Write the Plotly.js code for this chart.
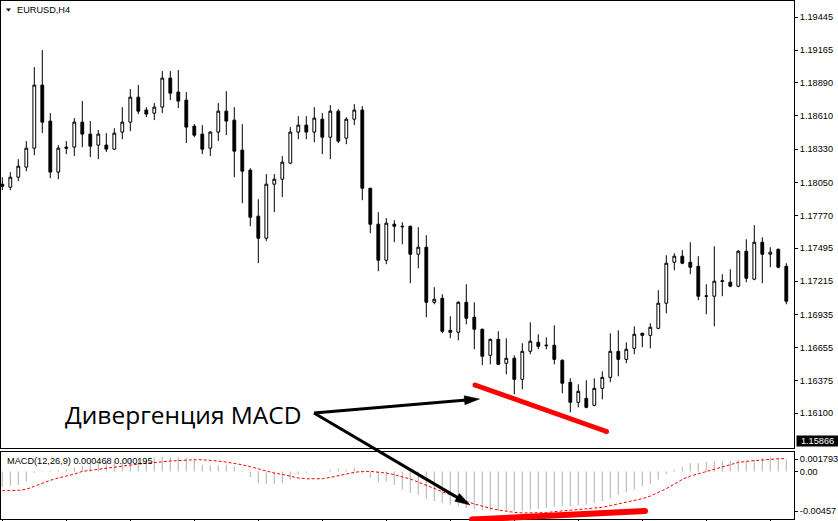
<!DOCTYPE html>
<html>
<head>
<meta charset="utf-8">
<script src="https://cdn.plot.ly/plotly-3.0.1.min.js"></script>
<style>
html,body{margin:0;padding:0;background:#fff;}
#chart{width:838px;height:521px;}
</style>
</head>
<body>
<div id="chart"></div>
<script>
// ---- data (EURUSD H4) ----
const openP = [1.18034,1.18009,1.18093,1.18178,1.18338,1.18871,1.18567,1.18136,1.18347,1.18347,
1.18558,1.18457,1.18364,1.18364,1.18330,1.18474,1.18558,1.18769,1.18660,1.18634,
1.18685,1.18930,1.18812,1.18744,1.18524,1.18457,1.18338,1.18474,1.18651,1.18575,
1.18322,1.18153,1.17764,1.17578,1.18034,1.18076,1.18212,1.18474,1.18533,1.18474,
1.18583,1.18431,1.18651,1.18423,1.18583,1.18660,1.18000,1.17696,1.17392,1.17696,
1.17679,1.17679,1.17443,1.17502,1.17037,1.17071,1.16800,1.16784,1.17037,1.16910,
1.16809,1.16589,1.16724,1.16522,1.16564,1.16386,1.16623,1.16699,1.16670,1.16674,
1.16547,1.16361,1.16192,1.16226,1.16167,1.16310,1.16403,1.16623,1.16555,1.16648,
1.16775,1.16758,1.16817,1.17029,1.17375,1.17426,1.17375,1.17341,1.17088,1.17088,
1.17212,1.17206,1.17173,1.17468,1.17232,1.17544,1.17443,1.17485,1.17341];
const highP = [1.18093,1.18136,1.18245,1.18398,1.19023,1.19167,1.18634,1.18364,1.18398,1.18592,
1.18736,1.18567,1.18491,1.18465,1.18507,1.18685,1.18837,1.18871,1.18685,1.18719,
1.18989,1.18989,1.18998,1.18812,1.18541,1.18533,1.18482,1.18719,1.18820,1.18685,
1.18541,1.18169,1.17907,1.18119,1.18119,1.18271,1.18516,1.18609,1.18609,1.18685,
1.18634,1.18702,1.18668,1.18600,1.18710,1.18693,1.18000,1.17798,1.17747,1.17730,
1.17713,1.17683,1.17671,1.17603,1.17164,1.17105,1.16919,1.17046,1.17189,1.17037,
1.16815,1.16730,1.16792,1.16733,1.16589,1.16691,1.16868,1.16767,1.16741,1.16843,
1.16555,1.16395,1.16344,1.16378,1.16395,1.16454,1.16775,1.16800,1.16699,1.16834,
1.16780,1.16860,1.17139,1.17434,1.17451,1.17477,1.17544,1.17426,1.17189,1.17510,
1.17274,1.17316,1.17477,1.17569,1.17688,1.17586,1.17502,1.17490,1.17367];
const lowP = [1.17984,1.17984,1.18060,1.18144,1.18279,1.18465,1.18085,1.18076,1.18288,1.18271,
1.18347,1.18262,1.18245,1.18305,1.18322,1.18414,1.18482,1.18626,1.18600,1.18575,
1.18634,1.18744,1.18676,1.18381,1.18431,1.18288,1.18271,1.18398,1.18448,1.18093,
1.17874,1.17679,1.17367,1.17553,1.17798,1.17924,1.18203,1.18414,1.18414,1.18389,
1.18288,1.18245,1.18381,1.18372,1.18533,1.17899,1.17620,1.17299,1.17358,1.17544,
1.17527,1.17198,1.17324,1.16910,1.17020,1.16775,1.16733,1.16716,1.16851,1.16640,
1.16505,1.16513,1.16508,1.16429,1.16260,1.16302,1.16598,1.16640,1.16640,1.16513,
1.16268,1.16108,1.16150,1.16142,1.16158,1.16217,1.16361,1.16412,1.16522,1.16598,
1.16657,1.16648,1.16809,1.16944,1.17308,1.17358,1.17274,1.17054,1.16936,1.16834,
1.17088,1.17164,1.17164,1.17206,1.17223,1.17198,1.17333,1.17324,1.17020];
const closeP = [1.18017,1.18093,1.18186,1.18338,1.18871,1.18558,1.18136,1.18338,1.18338,1.18558,
1.18457,1.18355,1.18457,1.18330,1.18465,1.18558,1.18769,1.18651,1.18626,1.18685,
1.18930,1.18803,1.18736,1.18516,1.18448,1.18330,1.18474,1.18651,1.18567,1.18313,
1.18144,1.17755,1.17578,1.18034,1.18076,1.18220,1.18474,1.18533,1.18474,1.18592,
1.18431,1.18651,1.18398,1.18583,1.18660,1.18000,1.17696,1.17392,1.17705,1.17679,
1.17675,1.17443,1.17502,1.17037,1.17062,1.16792,1.16784,1.17037,1.16902,1.16809,
1.16581,1.16724,1.16513,1.16564,1.16386,1.16623,1.16708,1.16665,1.16674,1.16555,
1.16353,1.16192,1.16285,1.16150,1.16310,1.16403,1.16623,1.16555,1.16640,1.16767,
1.16758,1.16826,1.17029,1.17367,1.17426,1.17367,1.17333,1.17088,1.17090,1.17215,
1.17218,1.17173,1.17468,1.17240,1.17544,1.17443,1.17460,1.17333,1.17046];
const macdMain = [-0.00147,-0.00134,-0.00125,-0.00094,-0.00016,0.00003,0.00005,0.00008,0.00016,0.00037,
0.0005,0.0008,0.0009,0.0009,0.0010,0.0011,0.0012,0.0012,0.0012,0.0013,
0.00137,0.00134,0.00131,0.00125,0.00109,0.00062,0.00056,0.00056,0.00062,0.00047,
0.00003,-0.00056,-0.00109,-0.00119,-0.00119,-0.00109,-0.00078,-0.00031,-0.00016,-0.00006,
-0.00003,0.00016,0.00025,0.00016,0.00037,-0.0002,-0.0006,-0.00103,-0.00094,-0.00125,
-0.00172,-0.00203,-0.00218,-0.00256,-0.00281,-0.00296,-0.00312,-0.00328,-0.00343,-0.00355,
-0.00365,-0.0037,-0.0037,-0.0037,-0.0037,-0.0037,-0.0036,-0.0035,-0.0034,-0.0033,
-0.00328,-0.00328,-0.00318,-0.00312,-0.00296,-0.00281,-0.0025,-0.00218,-0.00197,-0.00172,
-0.0014,-0.00119,-0.00078,-0.00025,0.00016,0.00047,0.00078,0.00078,0.00087,0.00094,
0.00094,0.0010,0.00106,0.00094,0.00106,0.00125,0.0014,0.00131,0.00109];
const macdSignal = [-0.00181,-0.00181,-0.00178,-0.00168,-0.0014,-0.00109,-0.00084,-0.00062,-0.00047,-0.00025,
0,0.00009,0.00016,0.00025,0.00037,0.00047,0.00059,0.00069,0.00078,0.00084,
0.0009,0.00097,0.00103,0.00106,0.00109,0.00109,0.00106,0.00097,0.00087,0.00078,
0.00062,0.00044,0.00022,0,-0.00016,-0.00028,-0.00047,-0.00062,-0.00069,-0.00072,
-0.00069,-0.00056,-0.00044,-0.00025,-0.00009,0,0,-0.00006,-0.00016,-0.00031,
-0.0005,-0.00072,-0.001,-0.00131,-0.00162,-0.00187,-0.00218,-0.0025,-0.00281,-0.00306,
-0.00328,-0.00346,-0.00362,-0.00374,-0.00384,-0.0039,-0.0039,-0.0039,-0.00387,-0.00378,
-0.00371,-0.00368,-0.00362,-0.00356,-0.00346,-0.00337,-0.00321,-0.00306,-0.00293,-0.00275,
-0.00256,-0.00231,-0.002,-0.00162,-0.00119,-0.00075,-0.00044,-0.00022,-0.00003,0.00019,
0.00044,0.00069,0.00084,0.00094,0.001,0.00106,0.00115,0.00119,0.00119];
const priceTicks = [1.19445,1.19165,1.18890,1.18610,1.18330,1.18050,1.17770,1.17495,1.17215,1.16935,1.16655,1.16375,1.16100];
const macdTickLabels = ["0.001793","0.00","-0.00457"];
const macdTickPos = [0.00115, 0, -0.00372];
const lastPriceLabel = "1.15866";
const symbolTitle = "EURUSD,H4";
const macdTitle = "MACD(12,26,9) 0.000468 0.000195";
const noteText = "Дивергенция MACD";

const idx = openP.map((_, i) => i);

// ---- pixel -> paper helpers for overlay drawings ----
const L = 1, R = 794, T = 1, B = 519;
const px = x => (x - L) / (R - L);
const py = y => (B - y) / (B - T);

function arrowShapes(tail, tip, w, headLen, headHalf) {
  const dx = tip[0] - tail[0], dy = tip[1] - tail[1];
  const len = Math.hypot(dx, dy);
  const ux = dx / len, uy = dy / len;
  const bx = tip[0] - ux * headLen, by = tip[1] - uy * headLen;
  const nx = -uy, ny = ux;
  return [
    {type:'line', xref:'paper', yref:'paper', x0:px(tail[0]), y0:py(tail[1]), x1:px(bx + ux*2), y1:py(by + uy*2),
     line:{color:'black', width:w}},
    {type:'path', xref:'paper', yref:'paper',
     path:`M ${px(tip[0])} ${py(tip[1])} L ${px(bx + nx*headHalf)} ${py(by + ny*headHalf)} L ${px(bx - nx*headHalf)} ${py(by - ny*headHalf)} Z`,
     fillcolor:'black', line:{color:'black', width:0.5}}
  ];
}
function redLine(a, b, w) {
  const r = w / 2;
  const circ = p => ({type:'circle', xref:'paper', yref:'paper',
    x0:px(p[0]-r), x1:px(p[0]+r), y0:py(p[1]+r), y1:py(p[1]-r), fillcolor:'red', line:{width:0}});
  return [
    {type:'line', xref:'paper', yref:'paper', x0:px(a[0]), y0:py(a[1]), x1:px(b[0]), y1:py(b[1]), line:{color:'red', width:w}},
    circ(a), circ(b)
  ];
}

const tickFont = {family:'Liberation Sans, Arial, sans-serif', size:9.2, color:'black'};
const xTickVals = [];
for (let i = 0; i < idx.length; i += 8) xTickVals.push(i);

const traces = [
  {type:'candlestick', x:idx, open:openP, high:highP, low:lowP, close:closeP,
   xaxis:'x', yaxis:'y', whiskerwidth:0, hoverinfo:'none',
   increasing:{line:{color:'black', width:1}, fillcolor:'white'},
   decreasing:{line:{color:'black', width:1}, fillcolor:'black'}},
  {type:'bar', x:idx, y:macdMain, xaxis:'x2', yaxis:'y2', width:0.14,
   marker:{color:'#b8b8b8', line:{width:0}}, hoverinfo:'none'},
  {type:'scatter', mode:'lines', x:idx, y:macdSignal, xaxis:'x2', yaxis:'y2',
   line:{color:'#ff0000', width:1, dash:'3px,2px'}, hoverinfo:'none'}
];

const xr = [-0.1625, 98.9625];
const layout = {
  width:838, height:521,
  margin:{l:1, r:44, t:1, b:2, pad:0},
  paper_bgcolor:'white', plot_bgcolor:'white',
  showlegend:false,
  boxgap:0.5,
  xaxis:{domain:[0,1], range:xr, anchor:'y', showline:true, mirror:true, linecolor:'black', linewidth:1,
         showgrid:false, zeroline:false, showticklabels:false, ticks:'', rangeslider:{visible:false}, fixedrange:true},
  xaxis2:{domain:[0,1], range:xr, anchor:'y2', showline:true, mirror:true, linecolor:'black', linewidth:1,
         showgrid:false, zeroline:false, showticklabels:false, ticks:'outside', ticklen:3, tickcolor:'black',
         tickvals:xTickVals, fixedrange:true},
  yaxis:{domain:[0.1365,1], range:[1.15804,1.19581], anchor:'x', side:'right', showline:true, mirror:true,
         linecolor:'black', linewidth:1, showgrid:false, zeroline:false, ticks:'outside', ticklen:3, tickcolor:'black',
         tickvals:priceTicks, ticktext:priceTicks.map(v => v.toFixed(5)), tickfont:tickFont, fixedrange:true},
  yaxis2:{domain:[0,0.1300], range:[-0.004465,0.00185], anchor:'x2', side:'right', showline:true, mirror:true,
         linecolor:'black', linewidth:1, showgrid:false, zeroline:false, ticks:'outside', ticklen:3, tickcolor:'black',
         tickvals:macdTickPos, ticktext:macdTickLabels, tickfont:tickFont, fixedrange:true},
  shapes:[
    {type:'path', xref:'paper', yref:'paper',
     path:`M ${px(6)} ${py(8.5)} L ${px(11)} ${py(8.5)} L ${px(8.5)} ${py(11.5)} Z`, fillcolor:'black', line:{width:0}},
    ...redLine([475,385],[606.5,431.5],5),
    ...redLine([472,519.5],[645,511],6),
    ...arrowShapes([314,413],[479.5,399],3,15,4.5),
    ...arrowShapes([314,413],[470,505],3,15,4.5)
  ],
  annotations:[
    {text:symbolTitle, xref:'paper', yref:'paper', x:px(15), y:py(9.5), xanchor:'left', yanchor:'middle',
     showarrow:false, font:tickFont},
    {text:macdTitle, xref:'paper', yref:'paper', x:px(5), y:py(460.5), xanchor:'left', yanchor:'middle',
     showarrow:false, font:tickFont},
    {text:noteText, xref:'paper', yref:'paper', x:px(63), y:py(414.5), xanchor:'left', yanchor:'middle',
     showarrow:false, font:{family:'Open Sans, sans-serif', size:24.5, color:'black'}},
    {text:lastPriceLabel, xref:'paper', yref:'paper', x:px(796), y:py(441), xanchor:'left', yanchor:'middle',
     showarrow:false, bgcolor:'black', borderpad:0, width:41, height:10,
     font:{family:'Liberation Sans, Arial, sans-serif', size:9.2, color:'white'}}
  ]
};

Plotly.newPlot('chart', traces, layout, {staticPlot:true, displayModeBar:false});
</script>
</body>
</html>
